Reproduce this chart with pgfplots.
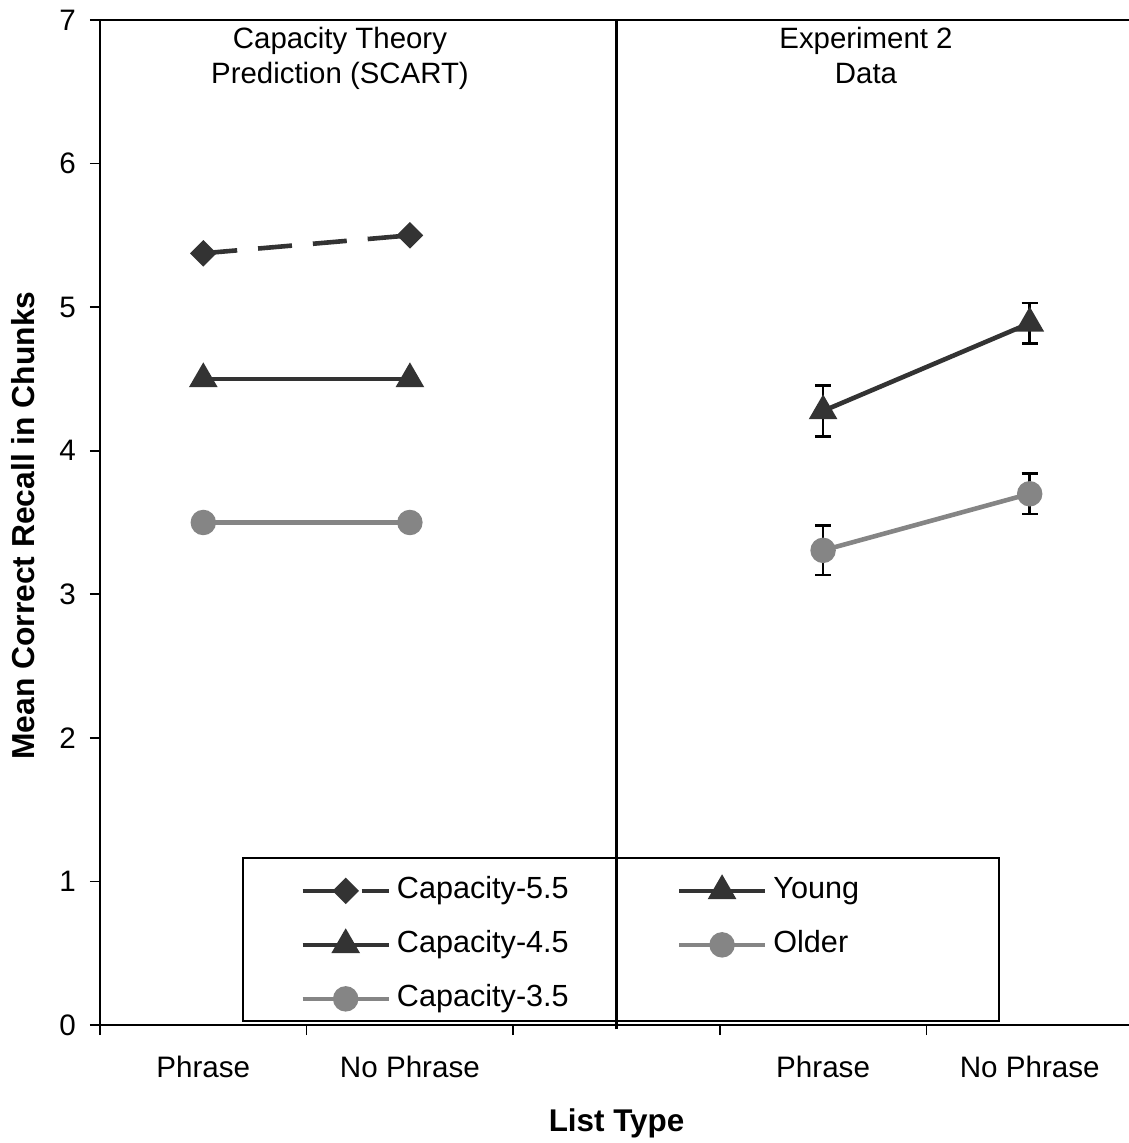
\documentclass[border=0pt]{standalone}
\usepackage{fontspec}
\setmainfont{Liberation Sans}
\usepackage{pgfplots}
\pgfplotsset{compat=1.18}
\definecolor{dk}{HTML}{333333}
\definecolor{lt}{HTML}{858585}
\begin{document}
\begin{tikzpicture}
\begin{axis}[name=ax, scale only axis, width=516.5pt, height=502.5pt,
  xmin=-0.5, xmax=4.5, ymin=0, ymax=7,
  clip=false,
  axis line style={line width=1.3pt, black},
  xtick={-0.5,0.5,1.5,2.5,3.5,4.5}, xticklabels={,,,,,},
  extra x ticks={0,1,3,4},
  extra x tick labels={Phrase,No Phrase,Phrase,No Phrase},
  extra x tick style={major tick length=0pt},
  ytick={0,1,2,3,4,5,6,7},
  tick align=outside, xtick pos=bottom, ytick pos=left,
  major tick length=5pt,
  tick style={line width=0.8pt, black},
  /pgf/number format/assume math mode=true,
  ticklabel style={font=\fontsize{14.8}{17}\selectfont},
  yticklabel style={xshift=-3.5pt},
  xticklabel style={yshift=-12pt},
  xlabel={List Type},
  ylabel={Mean Correct Recall in Chunks},
  xlabel style={font=\bfseries\fontsize{15.7}{18}\selectfont, at={(axis description cs:0.5,-0.098)}, anchor=center},
  ylabel style={font=\bfseries\fontsize{15.9}{18}\selectfont, at={(axis description cs:-0.0745,0.497)}, anchor=center},
  legend columns=2,
  legend cell align=left,
  legend image code/.code={\draw[mark repeat=2,mark phase=2,#1] plot coordinates {(0pt,0pt) (21.5pt,0pt) (43pt,0pt)};},
  legend style={draw=none, fill=none, inner sep=0pt, at={(axis description cs:0.1936,0.1483)}, anchor=north west,
    font=\fontsize{15.3}{18}\selectfont,
    nodes={inner xsep=3pt, inner ysep=0pt, text height=11pt, text depth=3.5pt},
    row sep=12.5pt, column sep=0pt,
    /tikz/every even column/.append style={column sep=51pt}},
]
\draw[line width=0.8pt, fill=white] (axis cs:0.192,0.028) rectangle (axis cs:3.851,1.163);
\draw[line width=1.3pt] (axis cs:2,-0.03) -- (axis cs:2,7);

\addplot[dk, line width=2.3pt, dash pattern=on 17pt off 10.5pt, mark=square*, mark size=3.55pt, mark options={solid, rotate=45, fill=dk},
  legend image post style={dash pattern=on 26pt off 3.5pt}]
  coordinates {(0,5.375) (1,5.5)};
\addlegendentry{Capacity-5.5}
\addplot[dk, line width=2.3pt, mark=triangle*, mark size=6pt, mark options={solid, fill=dk},
  error bars/.cd, y dir=both, y explicit,
  error bar style={black, line width=1.3pt, solid},
  error mark options={rotate=90, mark size=4pt, black, line width=1.3pt}]
  coordinates {(3,4.277) +- (0,0.178) (4,4.888) +- (0,0.14)};
\addlegendentry{Young}
\addplot[dk, line width=2.3pt, mark=triangle*, mark size=6pt, mark options={solid, fill=dk}]
  coordinates {(0,4.5) (1,4.5)};
\addlegendentry{Capacity-4.5}
\addplot[lt, line width=2.3pt, mark=*, mark size=5.2pt, mark options={solid, fill=lt, draw=lt},
  error bars/.cd, y dir=both, y explicit,
  error bar style={black, line width=1.3pt, solid},
  error mark options={rotate=90, mark size=4pt, black, line width=1.3pt}]
  coordinates {(3,3.306) +- (0,0.172) (4,3.70) +- (0,0.14)};
\addlegendentry{Older}
\addplot[lt, line width=2.3pt, mark=*, mark size=5.2pt, mark options={solid, fill=lt, draw=lt}]
  coordinates {(0,3.5) (1,3.5)};
\addlegendentry{Capacity-3.5}

\node[anchor=base, font=\fontsize{14.7}{17}\selectfont] at (axis cs:0.6617,6.80) {Capacity Theory};
\node[anchor=base, font=\fontsize{14.7}{17}\selectfont] at (axis cs:0.6617,6.556) {Prediction (SCART)};
\node[anchor=base, font=\fontsize{14.7}{17}\selectfont] at (axis cs:3.2077,6.80) {Experiment 2};
\node[anchor=base, font=\fontsize{14.7}{17}\selectfont] at (axis cs:3.2077,6.556) {Data};
\end{axis}
\pgfresetboundingbox
\path[use as bounding box] ([shift={(-50pt,-59pt)}]ax.south west) rectangle ([shift={(514pt,512.5pt)}]ax.south west);
\end{tikzpicture}
\end{document}
